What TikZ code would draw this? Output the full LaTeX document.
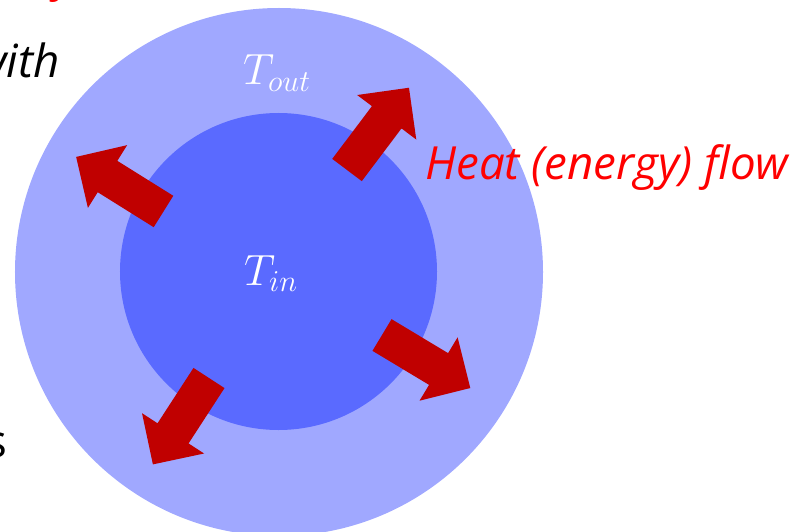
\documentclass[tikz,border=0pt]{standalone}
\usepackage{fontspec}
\setsansfont{Open Sans}
\usepackage{tikz}
\usetikzlibrary{positioning,calc}
\definecolor{shellout}{RGB}{160,168,255}
\definecolor{shellin}{RGB}{90,106,255}
\definecolor{flowred}{RGB}{192,0,0}
\definecolor{textred}{RGB}{255,0,0}

\begin{document}
\begin{tikzpicture}[x=0.02cm, y=0.02cm,
    temp/.style={text=white, inner sep=0pt, font=\fontsize{27}{32}\selectfont},
    side/.style={inner sep=0pt, font=\sffamily\itshape\fontsize{26}{31}\selectfont},
    flow/.style={fill=flowred}
]
\useasboundingbox (-278,-259) rectangle (516,272);

% Outer and inner body
\fill[shellout] (1,0) circle (264);
\fill[shellin] (0.5,0.5) circle (158.5);

% Temperatures
\node[temp, anchor=base] (tout) at (-1,187) {$T_{out}$};
\node[temp, anchor=base] (tin) at (-7,-13) {$T_{in}$};

% Heat flow arrows (tail position, direction)
\foreach \px/\py/\dir in {69/102/53, -114.5/60.5/148, 104/-63/-31, -69/-106/-123} {
  \begin{scope}[shift={(\px,\py)}, rotate=\dir]
    \fill[flow] (0,18.5) -- (66,18.5) -- (66,37) -- (103,0) -- (66,-37)
      -- (66,-18.5) -- (0,-18.5) -- cycle;
  \end{scope}
}

% Label
\node[side, text=textred, anchor=base west] (heat) at (147,92) {Heat (energy) flow};

% Cut-off text at the edges
\node[side, anchor=base east] (with) at (-218,194) {with};
\node[side, anchor=base east, font=\sffamily\fontsize{26}{31}\selectfont] (ess) at (-270,-185) {s};
\node[side, text=textred, anchor=base] (top) at (-213,280) {y};

\end{tikzpicture}
\end{document}
